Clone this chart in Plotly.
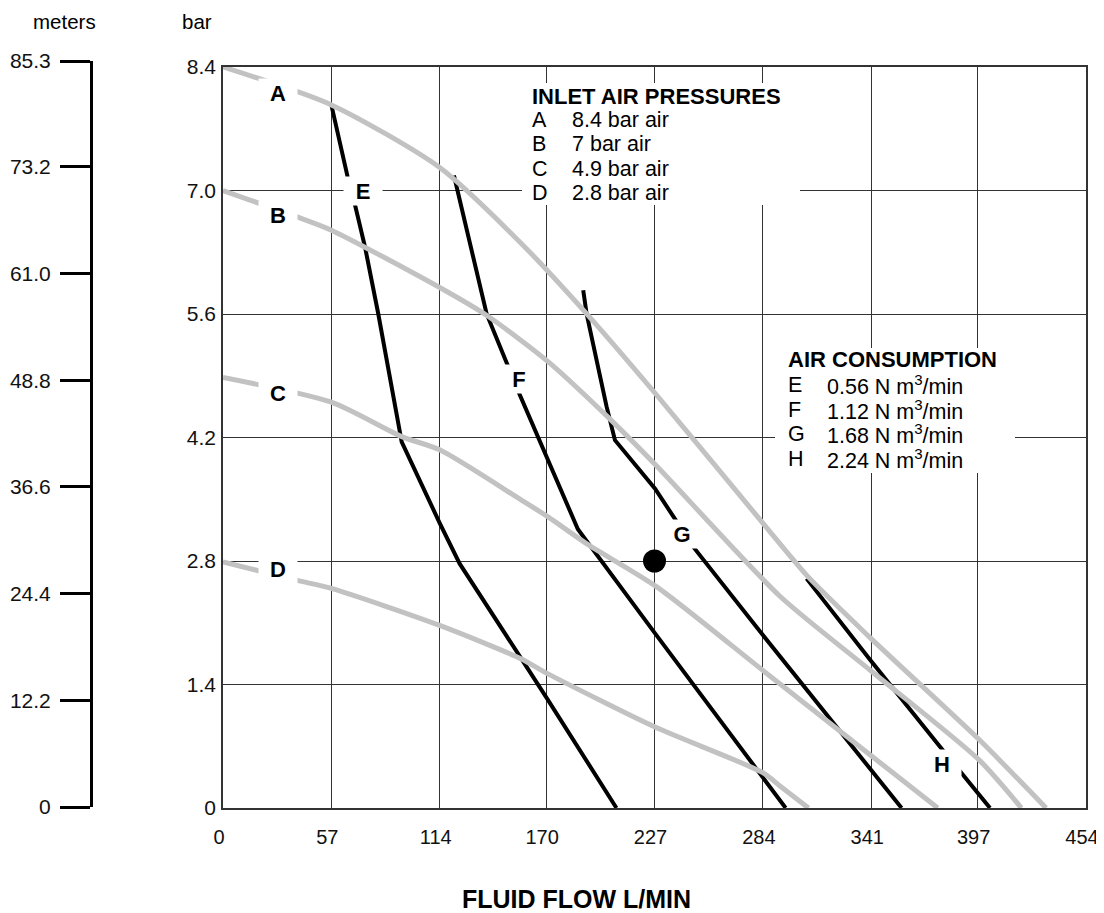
import plotly.graph_objects as go

# ---------------- data ----------------
flow_ticks = [0, 57, 114, 170, 227, 284, 341, 397, 454]
bar_ticks = [0, 1.4, 2.8, 4.2, 5.6, 7.0, 8.4]
bar_tick_text = ["0", "1.4", "2.8", "4.2", "5.6", "7.0", "8.4"]
meter_ticks = [0, 12.2, 24.4, 36.6, 48.8, 61.0, 73.2, 85.3]
meter_tick_text = ["0", "12.2", "24.4", "36.6", "48.8", "61.0", "73.2", "85.3"]

# inlet air pressure curves (gray)
a_flow = [0, 57, 114, 156, 191, 227, 284, 307, 340, 398, 433]
a_bar = [8.40, 7.97, 7.26, 6.42, 5.61, 4.71, 3.23, 2.64, 1.94, 0.77, 0]
b_flow = [0, 39, 57, 114, 139, 171, 204, 228, 293, 340, 398, 420]
b_bar = [7.0, 6.70, 6.55, 5.90, 5.58, 5.06, 4.40, 3.88, 2.40, 1.57, 0.54, 0]
c_flow = [0, 57, 94, 114, 157, 171, 191, 228, 284, 340, 376]
c_bar = [4.88, 4.60, 4.21, 4.06, 3.49, 3.30, 3.00, 2.51, 1.56, 0.61, 0]
d_flow = [0, 39, 57, 114, 157, 171, 227, 284, 293, 308]
d_bar = [2.79, 2.58, 2.49, 2.07, 1.69, 1.52, 0.92, 0.40, 0.25, 0]

# air consumption curves (black)
e_flow = [57, 65.5, 69.4, 74.7, 81.7, 86.1, 92.2, 94, 114, 124.5, 157, 170.5, 207]
e_bar = [7.97, 7.16, 6.84, 6.36, 5.60, 5.08, 4.32, 4.15, 3.23, 2.77, 1.69, 1.24, 0]
f_flow = [121.5, 138.7, 156, 170.8, 186.7, 227.3, 296]
f_bar = [7.17, 5.60, 4.69, 3.96, 3.16, 1.98, 0]
g_flow = [189.5, 191.3, 201.8, 206.2, 227.3, 247.4, 284, 357]
g_bar = [5.87, 5.60, 4.55, 4.17, 3.62, 2.96, 1.96, 0]
h_flow = [307, 340.4, 377, 403.5]
h_bar = [2.60, 1.68, 0.70, 0]

# operating point
op_flow = [227]
op_bar = [2.8]

curve_labels = ["A", "B", "C", "D", "E", "F", "G", "H"]
label_flow = [29.1, 29.1, 29.1, 29.1, 73.8, 155.7, 241.3, 378.4]
label_bar = [8.10, 6.72, 4.70, 2.71, 7.00, 4.86, 3.11, 0.50]

inlet_title = "INLET AIR PRESSURES"
inlet_keys = ["A", "B", "C", "D"]
inlet_vals = ["8.4 bar air", "7 bar air", "4.9 bar air", "2.8 bar air"]
cons_title = "AIR CONSUMPTION"
cons_keys = ["E", "F", "G", "H"]
cons_vals = ["0.56 N m<sup>3</sup>/min", "1.12 N m<sup>3</sup>/min",
             "1.68 N m<sup>3</sup>/min", "2.24 N m<sup>3</sup>/min"]

# ---------------- layout helpers ----------------
OFF = 8                      # page body margin
W, H = 1104 - OFF, 913 - OFF


def px(x):
    return (x - OFF) / W


def py(y):
    return 1 - (y - OFF) / H


FONT = "Liberation Sans, Arial, sans-serif"
NARROW = "Liberation Sans Narrow, Arial Narrow, Liberation Sans, sans-serif"
GRAY = "#c2c2c2"
GRID = "#333333"

fig = go.Figure()

for fx, by in [(e_flow, e_bar), (f_flow, f_bar), (g_flow, g_bar), (h_flow, h_bar)]:
    fig.add_trace(go.Scatter(x=fx, y=by, mode="lines",
                             line=dict(color="black", width=4),
                             showlegend=False, hoverinfo="skip"))
for fx, by in [(a_flow, a_bar), (b_flow, b_bar), (c_flow, c_bar), (d_flow, d_bar)]:
    fig.add_trace(go.Scatter(x=fx, y=by, mode="lines",
                             line=dict(color=GRAY, width=5, shape="spline", smoothing=0.7),
                             showlegend=False, hoverinfo="skip"))

fig.add_trace(go.Scatter(x=op_flow, y=op_bar, mode="markers",
                         marker=dict(color="black", size=23),
                         showlegend=False, hoverinfo="skip"))

# dummy trace for the meters axis
fig.add_trace(go.Scatter(x=[], y=[], xaxis="x2", yaxis="y2", showlegend=False))

# curve labels
for t, fx, by in zip(curve_labels, label_flow, label_bar):
    fig.add_annotation(x=fx, y=by, xref="x", yref="y", text="<b>%s</b>" % t,
                       xanchor="center", yanchor="middle",
                       showarrow=False, bgcolor="white", width=36, height=26,
                       font=dict(family=FONT, size=22, color="black"))

# white boxes behind legend blocks (cover the grid)
for cx, cy, bw, bh in [(661, 144, 278, 122), (895, 410.5, 240, 125)]:
    fig.add_annotation(x=px(cx), y=py(cy), xref="paper", yref="paper",
                       xanchor="center", yanchor="middle", showarrow=False,
                       text="\u00a0", width=bw, height=bh, borderpad=0, borderwidth=0,
                       bgcolor="white", font=dict(size=10))

# legend texts
fig.add_annotation(x=px(530), y=py(96), xref="paper", yref="paper", xanchor="left",
                   yanchor="middle", showarrow=False, text="<b>%s</b>" % inlet_title,
                   font=dict(family=FONT, size=22, color="black"))
for i, (k, v) in enumerate(zip(inlet_keys, inlet_vals)):
    yy = 120 + i * 24.3
    fig.add_annotation(x=px(530), y=py(yy), xref="paper", yref="paper", xanchor="left",
                       yanchor="middle", showarrow=False, text=k,
                       font=dict(family=FONT, size=21.5, color="black"))
    fig.add_annotation(x=px(570), y=py(yy), xref="paper", yref="paper", xanchor="left",
                       yanchor="middle", showarrow=False, text=v,
                       font=dict(family=FONT, size=21.5, color="black"))

fig.add_annotation(x=px(786), y=py(360), xref="paper", yref="paper", xanchor="left",
                   yanchor="middle", showarrow=False, text="<b>%s</b>" % cons_title,
                   font=dict(family=FONT, size=22, color="black"))
for i, (k, v) in enumerate(zip(cons_keys, cons_vals)):
    yy = 385 + i * 24.7
    fig.add_annotation(x=px(786), y=py(yy), xref="paper", yref="paper", xanchor="left",
                       yanchor="middle", showarrow=False, text=k,
                       font=dict(family=FONT, size=21.5, color="black"))
    fig.add_annotation(x=px(825), y=py(yy), xref="paper", yref="paper", xanchor="left",
                       yanchor="middle", showarrow=False, text=v,
                       font=dict(family=FONT, size=21.5, color="black"))

# axis captions
fig.add_annotation(x=px(64), y=py(21), xref="paper", yref="paper", showarrow=False,
                   xanchor="center", yanchor="middle",
                   text="meters", font=dict(family=FONT, size=20.5, color="black"))
fig.add_annotation(x=px(197), y=py(21), xref="paper", yref="paper", showarrow=False,
                   xanchor="center", yanchor="middle",
                   text="bar", font=dict(family=FONT, size=20.5, color="black"))
fig.add_annotation(x=px(576), y=py(899), xref="paper", yref="paper", showarrow=False,
                   xanchor="center", yanchor="middle",
                   text="<b>FLUID FLOW L/MIN</b>", font=dict(family=NARROW, size=25, color="black"))

fig.update_layout(
    width=W, height=H,
    margin=dict(l=0, r=0, t=0, b=0, autoexpand=False),
    paper_bgcolor="white", plot_bgcolor="white",
    showlegend=False,
    xaxis=dict(domain=[px(223), px(1086)], range=[0, 454], tickvals=flow_ticks,
               ticktext=[str(v) for v in flow_ticks],
               showgrid=True, gridcolor=GRID, gridwidth=1.2,
               showline=True, linecolor=GRID, linewidth=1.5, mirror=True,
               zeroline=False, ticks="outside", ticklen=10, tickcolor="rgba(0,0,0,0)",
               ticklabelshift=-4,
               tickfont=dict(family=NARROW, size=20, color="#111")),
    yaxis=dict(domain=[py(808), py(67)], range=[0, 8.4], tickvals=bar_ticks,
               ticktext=bar_tick_text,
               showgrid=True, gridcolor=GRID, gridwidth=1.2,
               showline=True, linecolor=GRID, linewidth=1.5, mirror=True,
               zeroline=False, ticks="outside", ticklen=1, tickcolor="rgba(0,0,0,0)",
               tickfont=dict(family=FONT, size=21, color="#111")),
    xaxis2=dict(domain=[px(93), px(100)], anchor="y2", visible=False, range=[0, 1]),
    yaxis2=dict(domain=[py(807), py(61)], anchor="x2", range=[0, 85.3],
                tickvals=meter_ticks, ticktext=meter_tick_text,
                showgrid=False, zeroline=False,
                showline=True, linecolor="black", linewidth=3,
                ticks="outside", ticklen=30, tickwidth=3, tickcolor="black",
                ticklabelstandoff=5,
                tickfont=dict(family=FONT, size=21, color="#111")),
)

fig.write_html("out.html")
